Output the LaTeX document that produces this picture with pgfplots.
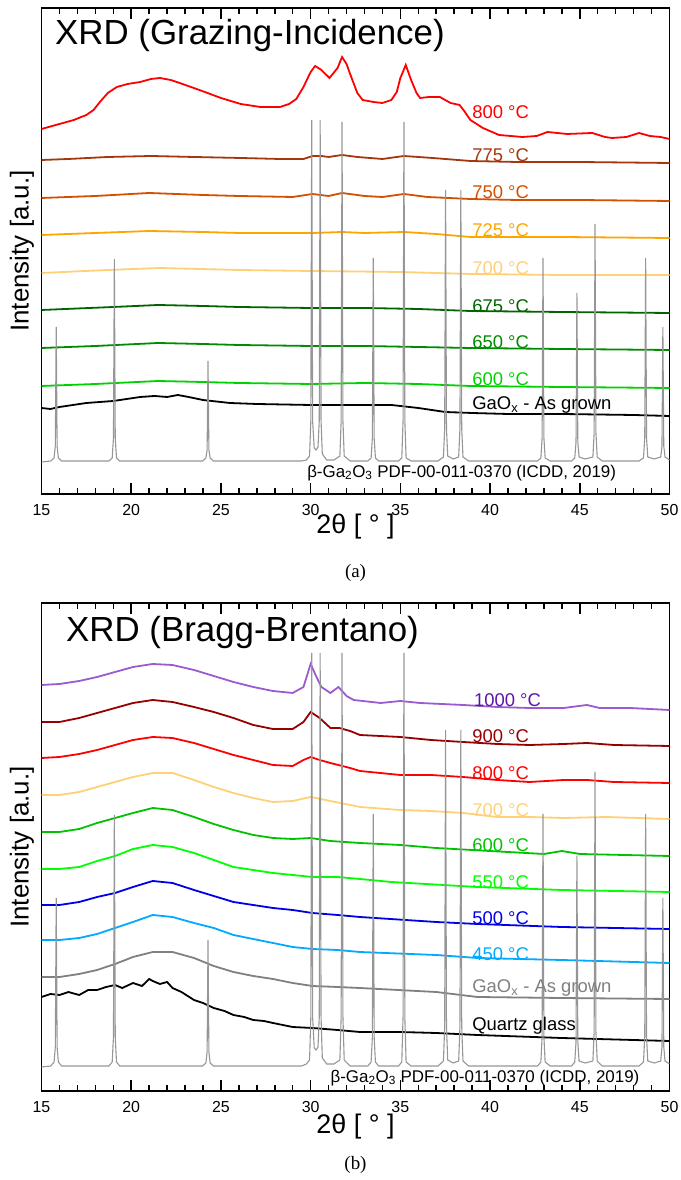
\documentclass[border=0pt]{standalone}
\usepackage{fontspec}
\setmainfont{Liberation Sans}
\newfontfamily\capfont{Liberation Serif}
\usepackage{pgfplots}
\pgfplotsset{compat=1.18}

\definecolor{cA800}{RGB}{255,0,0}
\definecolor{cA775}{RGB}{165,55,15}
\definecolor{cA750}{RGB}{210,80,0}
\definecolor{cA725}{RGB}{255,165,0}
\definecolor{cA700}{RGB}{255,208,120}
\definecolor{cA675}{RGB}{0,100,0}
\definecolor{cA650}{RGB}{0,140,0}
\definecolor{cA600}{RGB}{0,210,0}
\definecolor{cB1000}{RGB}{155,90,210}
\definecolor{cB1000t}{RGB}{90,20,170}
\definecolor{cB900}{RGB}{150,0,0}
\definecolor{cB600}{RGB}{0,195,0}
\definecolor{cB550}{RGB}{0,255,0}
\definecolor{cB500}{RGB}{0,0,230}
\definecolor{cB450}{RGB}{0,170,255}
\definecolor{cgrey}{RGB}{128,128,128}
\definecolor{cref}{RGB}{150,150,150}

\pgfplotsset{
  xrd/.style={
    scale only axis, width=628bp,
    xmin=15, xmax=50, ymin=0,
    xtick={15,20,...,50},
    ytick=\empty,
    tick align=inside, xtick pos=both,
    major tick length=11bp,
    xtick style={draw=black, line width=1.6bp},
    axis line style={line width=1.4bp},
    /pgf/number format/assume math mode=true,
    xticklabel style={font=\fontsize{16}{16}\selectfont, anchor=base, yshift=-21.5bp},
  },
  curve/.style={line width=1.8bp},
  refpat/.style={cref, line width=1.1bp},
}
\tikzset{
  lbl/.style={anchor=west, font=\fontsize{18.5}{18.5}\selectfont, inner sep=0pt},
  tk/.style={black, line width=1.5bp},
}
% inward tick marks on the bottom (#1) and top (#2) edges of a panel, in bp
\newcommand\xrdticks[2]{%
  \foreach \t in {16,...,49}{%
    \pgfmathsetmacro\tx{41.5+(\t-15)*17.942857}%
    \pgfmathtruncatemacro\ismaj{mod(\t,5)==0 ? 1 : 0}%
    \pgfmathsetmacro\tl{\ismaj==1 ? 11 : 6}%
    \pgfmathsetmacro\ya{#1+\tl}%
    \pgfmathsetmacro\yb{#2-\tl}%
    \draw[tk] (\tx bp,#1bp) -- (\tx bp,\ya bp);
    \draw[tk] (\tx bp,#2bp) -- (\tx bp,\yb bp);
  }%
}

\begin{document}
\begin{tikzpicture}
\path[use as bounding box] (0bp,0bp) rectangle (681bp,1180bp);

% ---------------- (a) grazing incidence
\begin{axis}[xrd, at={(41.5bp,686bp)}, anchor=south west, height=486bp, ymax=486]
\addplot[curve, cA800] coordinates {(15,365)(16,370)(16.8,374)(17.5,379)(17.9,384)(18.3,393)(18.7,401)(19.2,407)(19.8,410)(20.5,412)(21.1,415)(21.6,416)(22.2,414)(22.7,411)(23.8,404)(25.0,396)(26.1,390)(27.2,387)(28.3,387)(28.8,390)(29.2,395)(29.6,407)(30.0,422)(30.25,428)(30.6,424)(31.05,416)(31.5,426)(31.75,437)(32.0,430)(32.2,420)(32.6,401)(32.9,394)(33.5,392)(34.0,391)(34.5,394)(34.8,402)(35.0,416)(35.3,429)(35.6,414)(35.9,401)(36.1,396)(36.6,397)(37.2,397)(37.8,391)(38.3,389)(38.6,382)(38.9,374)(39.6,366)(40.5,359)(41.8,357)(42.6,358)(43.2,362)(44.3,360)(45.7,361)(46.4,357)(46.8,356)(47.6,357)(48.3,361)(48.9,358)(49.5,357)(50,355)};
\addplot[curve, cA775] coordinates {(15,334)(16.5,335)(18.7,337)(21.1,338)(23.5,337)(26.1,336)(28.3,335)(29.6,335)(30.1,338)(30.6,338)(31.0,337)(31.75,339)(32.6,337)(34.0,335)(35.2,338)(36.8,336)(38.9,333)(41.5,332)(45,332)(50,331)};
\addplot[curve, cA750] coordinates {(15,296)(18,298)(21,301)(24,299)(26,298)(29,297)(30.1,300)(31.0,298)(31.75,301)(33,298)(34.0,297)(35.2,300)(36.5,297)(38.9,295)(41.5,294)(45,294)(50,293)};
\addplot[curve, cA725] coordinates {(15,259)(18,261)(21,263)(24,262)(26,261)(30.1,261)(31.75,262)(33,261)(35.2,262)(37,260)(38.9,257)(44,257)(50,256)};
\addplot[curve, cA700] coordinates {(15,221)(18.7,224)(21.6,226)(26,224)(30,223)(35,222)(38.9,220)(44,219)(50,219)};
\addplot[curve, cA675] coordinates {(15,184)(19,187)(21.5,189)(24,188)(26,187)(30,186)(33,186)(36,185)(38.9,183)(44,182)(50,181)};
\addplot[curve, cA650] coordinates {(15,146)(18,148)(21.5,151)(24,150)(26,149)(30,148)(33,148)(36,147)(38.9,146)(44,145)(50,144)};
\addplot[curve, cA600] coordinates {(15,108)(18,110)(21.5,113)(24,112)(26,111)(30,110)(33,111)(36,110)(38.9,108)(44,107)(50,106)};
\addplot[curve, black] coordinates {(15,86)(15.5,85)(16,87)(17.5,91)(19,93)(20.5,97)(21.3,98)(22,97)(22.6,99)(23.2,97)(24,94)(25.5,91)(27,90)(30,89)(33,89)(34.5,89)(36,86)(37.5,82)(39,81)(41,80)(44,80)(48,79)(50,78)};
% beta-Ga2O3 reference pattern
\addplot[refpat] coordinates {(15,32)(15.52,33)(15.70,36)(15.77,48)(15.82,167)(15.87,48)(15.94,36)(16.12,33)
 (18.76,33)(18.94,36)(19.01,56)(19.06,235)(19.11,56)(19.18,36)(19.36,33)
 (23.98,33)(24.16,36)(24.23,44)(24.28,133)(24.33,44)(24.40,36)(24.58,33)
 (29.5,33)(29.76,34)(29.94,38)(30.01,73)(30.06,374)(30.11,73)(30.2,46)(30.3,44)(30.41,47)(30.48,73)(30.53,374)(30.58,73)(30.65,40)(30.9,34)(31.3,34)(31.63,38)(31.70,73)(31.75,372)(31.80,73)(31.87,38)(32.2,33)
 (33.19,33)(33.37,36)(33.44,56)(33.49,236)(33.54,56)(33.61,36)(33.79,33)
 (34.9,33)(35.08,36)(35.15,73)(35.20,372)(35.25,73)(35.32,36)(35.6,33)
 (37.1,33)(37.40,37)(37.47,65)(37.52,304)(37.57,65)(37.64,38)(37.95,35)(38.25,37)(38.32,65)(38.37,304)(38.42,65)(38.49,37)(38.8,33)
 (42.65,33)(42.83,36)(42.90,56)(42.95,236)(43.00,56)(43.07,36)(43.35,33)
 (44.54,33)(44.72,36)(44.79,52)(44.84,201)(44.89,52)(44.96,37)(45.3,35)(45.73,37)(45.80,61)(45.85,270)(45.90,61)(45.97,37)(46.25,33)
 (48.3,33)(48.55,36)(48.62,56)(48.67,236)(48.72,56)(48.79,37)(49.15,35)(49.51,37)(49.58,48)(49.63,167)(49.68,48)(49.75,37)(50,34)};
\node[lbl, text=cA800] at (axis cs:39,382) {800 °C};
\node[lbl, text=cA775] at (axis cs:39,339) {775 °C};
\node[lbl, text=cA750] at (axis cs:39,302) {750 °C};
\node[lbl, text=cA725] at (axis cs:39,264) {725 °C};
\node[lbl, text=cA700] at (axis cs:39,226) {700 °C};
\node[lbl, text=cA675] at (axis cs:39,188) {675 °C};
\node[lbl, text=cA650] at (axis cs:39,152) {650 °C};
\node[lbl, text=cA600] at (axis cs:39,115) {600 °C};
\node[lbl, text=black] at (axis cs:39,89) {GaO\textsubscript{x} - As grown};
\node[lbl, text=black, font=\fontsize{17}{17}\selectfont] at (axis cs:29.8,21) {β-Ga\textsubscript{2}O\textsubscript{3} PDF-00-011-0370 (ICDD, 2019)};
\end{axis}
\xrdticks{686}{1172}
\node[anchor=west, inner sep=0pt, font=\fontsize{35}{35}\selectfont] at (55bp,1145bp) {XRD (Grazing-Incidence)};
\node[font=\fontsize{27}{27}\selectfont] at (355.5bp,653bp) {2θ [ ° ]};
\node[rotate=90, font=\fontsize{26}{26}\selectfont] at (22bp,929bp) {Intensity [a.u.]};
\node[font=\capfont\fontsize{19}{19}\selectfont] at (355.5bp,607bp) {(a)};

% ---------------- (b) Bragg-Brentano
\begin{axis}[xrd, at={(41.5bp,89bp)}, anchor=south west, height=488bp, ymax=488]
\addplot[curve, cB1000] coordinates {(15,406)(16,407)(17.1,410)(18.1,414)(19.1,419)(20.1,424)(21.2,427)(22.3,426)(23.5,421)(24.6,415)(25.7,409)(26.8,404)(27.9,400)(29.0,398)(29.6,404)(30.0,427)(30.3,415)(30.6,404)(31.1,398)(31.55,404)(32.0,395)(32.4,391)(33.9,388)(35.0,390)(36.1,388)(38.5,386)(40.4,384)(42.2,383)(44.1,383)(45.4,386)(46.1,383)(47.8,383)(50,381)};
\addplot[curve, cB900] coordinates {(15,369)(16,369)(17.1,373)(18.1,378)(19.1,383)(20.1,388)(21.2,391)(22.3,389)(23.5,384)(24.6,379)(25.7,373)(26.8,366)(27.9,362)(29.0,362)(29.6,369)(30.0,379)(30.5,373)(31.1,363)(31.6,363)(32.2,360)(32.75,356)(35.0,354)(36.7,351)(38.5,349)(40.4,347)(42.2,346)(44.1,347)(45.4,348)(46.9,346)(50,345)};
\addplot[curve, cA800] coordinates {(15,333)(16,334)(17.1,337)(18.1,341)(19.1,346)(20.1,351)(21.2,354)(22.3,353)(23.5,348)(24.6,342)(25.7,336)(26.8,331)(27.9,326)(29.0,325)(29.6,331)(30.0,334)(30.5,331)(31.1,328)(32.2,323)(32.75,320)(35.0,316)(36.7,316)(38.5,314)(40.4,311)(42.2,309)(44.1,311)(45.4,311)(46.9,309)(50,308)};
\addplot[curve, cA700] coordinates {(15,296)(16,296)(17.1,299)(18.1,304)(19.1,309)(20.1,314)(21.2,318)(22.3,318)(23.5,311)(24.6,304)(25.7,298)(26.8,293)(27.9,289)(29.0,290)(30.0,294)(31.1,290)(32.75,284)(35.0,281)(36.7,280)(38.5,278)(40.4,274)(42.2,274)(44.1,273)(46.5,274)(50,272)};
\addplot[curve, cB600] coordinates {(15,259)(16,259)(17.1,262)(18.1,268)(19.1,273)(20.1,278)(21.2,283)(22.3,281)(23.5,274)(24.6,267)(25.7,261)(26.8,256)(27.9,253)(29.0,252)(30.0,253)(31.1,250)(32.75,248)(35.0,246)(37.0,243)(40.0,240)(43.0,237)(44.0,240)(45.0,237)(50,235)};
\addplot[curve, cB550] coordinates {(15,222)(16,222)(17.1,224)(18.1,230)(19.1,235)(20.1,242)(21.2,246)(22.3,244)(23.5,238)(24.6,231)(25.7,224)(26.8,221)(27.9,218)(29.0,216)(30.1,214)(31.5,214)(32.75,212)(34.5,209)(39.3,204)(44,201)(50,199)};
\addplot[curve, cB500] coordinates {(15,186)(16,186)(17.1,189)(18.1,194)(19.1,198)(20.1,204)(21.2,210)(22.3,208)(23.5,201)(24.6,195)(25.7,189)(26.8,186)(27.9,183)(29.0,181)(30.1,178)(31.5,176)(32.75,174)(37,169)(39.3,167)(44,164)(50,162)};
\addplot[curve, cB450] coordinates {(15,151)(16,151)(17.1,153)(18.1,157)(19.1,163)(20.1,169)(21.2,176)(22.3,174)(23.5,168)(24.6,163)(25.7,156)(26.8,152)(27.9,148)(29.0,144)(30.1,142)(31.5,141)(32.75,139)(37,136)(39.3,133)(44,131)(50,128)};
\addplot[curve, cgrey] coordinates {(15,114)(16,114)(17.1,117)(18.1,121)(19.1,127)(20.1,134)(21.2,139)(22.3,139)(23.5,133)(24.6,125)(25.7,119)(26.8,115)(27.9,112)(29.0,108)(30.1,105)(31.5,104)(32.75,103)(37,99)(39.3,94)(44,93)(50,92)};
\addplot[curve, black] coordinates {(15,94)(15.5,97)(16,96)(16.5,99)(17.1,96)(17.6,101)(18.1,101)(18.6,104)(19.1,106)(19.5,103)(20.1,108)(20.6,105)(21.0,112)(21.2,110)(21.6,107)(22.0,109)(22.3,103)(22.8,99)(23.5,91)(24.0,88)(24.6,83)(25.2,80)(25.7,76)(26.3,74)(26.8,71)(27.4,70)(27.9,68)(29.0,64)(30.1,63)(31.5,61)(32.75,59)(35,59)(37,58)(39.3,56)(44,53)(50,50)};
% beta-Ga2O3 reference pattern
\addplot[refpat] coordinates {(15,24)(15.52,25)(15.70,29)(15.77,44)(15.82,193)(15.87,44)(15.94,29)(16.12,25)
 (18.76,25)(18.94,29)(19.01,54)(19.06,276)(19.11,54)(19.18,29)(19.36,25)
 (23.98,25)(24.16,28)(24.23,39)(24.28,151)(24.33,39)(24.40,28)(24.58,25)
 (29.5,25)(29.76,27)(29.94,31)(30.01,74)(30.06,438)(30.11,74)(30.2,43)(30.3,41)(30.41,44)(30.48,74)(30.53,438)(30.58,74)(30.65,33)(30.9,27)(31.3,27)(31.63,31)(31.70,74)(31.75,438)(31.80,74)(31.87,31)(32.2,25)
 (33.19,25)(33.37,29)(33.44,54)(33.49,277)(33.54,54)(33.61,29)(33.79,25)
 (34.9,25)(35.08,29)(35.15,74)(35.20,438)(35.25,74)(35.32,29)(35.6,25)
 (37.1,25)(37.40,30)(37.47,64)(37.52,361)(37.57,64)(37.64,31)(37.95,28)(38.25,30)(38.32,64)(38.37,361)(38.42,64)(38.49,30)(38.8,25)
 (42.65,25)(42.83,29)(42.90,54)(42.95,277)(43.00,54)(43.07,29)(43.35,25)
 (44.54,25)(44.72,29)(44.79,49)(44.84,235)(44.89,49)(44.96,30)(45.3,28)(45.73,30)(45.80,59)(45.85,319)(45.90,59)(45.97,30)(46.25,25)
 (48.3,25)(48.55,29)(48.62,54)(48.67,277)(48.72,54)(48.79,30)(49.15,28)(49.51,30)(49.58,44)(49.63,193)(49.68,44)(49.75,30)(50,27)};
\node[lbl, text=cB1000t] at (axis cs:39.1,391) {1000 °C};
\node[lbl, text=cB900] at (axis cs:39,355) {900 °C};
\node[lbl, text=cA800] at (axis cs:39,318) {800 °C};
\node[lbl, text=cA700] at (axis cs:39,281) {700 °C};
\node[lbl, text=cB600] at (axis cs:39,246) {600 °C};
\node[lbl, text=cB550] at (axis cs:39,209) {550 °C};
\node[lbl, text=cB500] at (axis cs:39,173) {500 °C};
\node[lbl, text=cB450] at (axis cs:39,137) {450 °C};
\node[lbl, text=cgrey] at (axis cs:39,103) {GaO\textsubscript{x} - As grown};
\node[lbl, text=black] at (axis cs:39,65) {Quartz glass};
\node[lbl, text=black, font=\fontsize{17}{17}\selectfont] at (axis cs:31.1,13) {β-Ga\textsubscript{2}O\textsubscript{3} PDF-00-011-0370 (ICDD, 2019)};
\end{axis}
\xrdticks{89}{577}
\node[anchor=west, inner sep=0pt, font=\fontsize{35}{35}\selectfont] at (66bp,548bp) {XRD (Bragg-Brentano)};
\node[font=\fontsize{27}{27}\selectfont] at (355.5bp,53bp) {2θ [ ° ]};
\node[rotate=90, font=\fontsize{26}{26}\selectfont] at (22bp,333bp) {Intensity [a.u.]};
\node[font=\capfont\fontsize{19}{19}\selectfont] at (355.5bp,15bp) {(b)};
\end{tikzpicture}
\end{document}
